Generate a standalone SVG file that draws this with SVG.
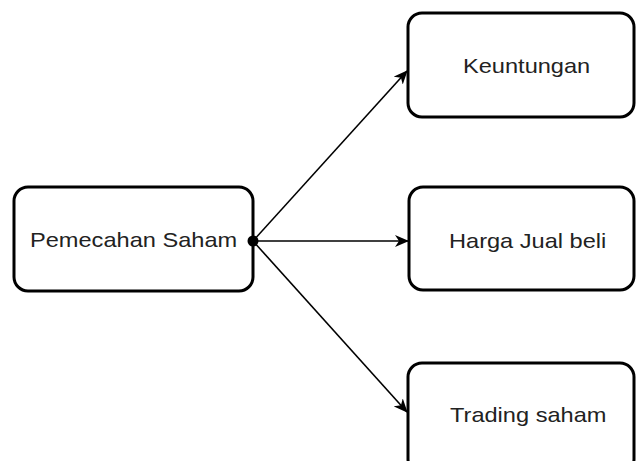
<svg xmlns="http://www.w3.org/2000/svg" width="636" height="461" viewBox="0 0 636 461">
<defs>
<style>
.box{fill:#fff;stroke:#000;stroke-width:3}
.lbl{font-family:"Liberation Sans",Arial,sans-serif;font-size:20px;fill:#222}
.edge{stroke:#000;stroke-width:1.6;fill:none}
</style>
<marker id="arr" markerWidth="14" markerHeight="12" refX="13" refY="6" orient="auto" markerUnits="userSpaceOnUse" viewBox="0 0 14 12">
<path d="M0,0 L14,6 L0,12 L4,6 Z" fill="#000"/>
</marker>
</defs>
<rect width="636" height="461" fill="#fff"/>
<g id="n1">
<rect class="box" x="14" y="187" width="239" height="104" rx="14"/>
<text class="lbl" transform="translate(30,247) scale(1.18,1)" x="0" y="0">Pemecahan Saham</text>
</g>
<g id="n2">
<rect class="box" x="408" y="13" width="226" height="104" rx="14"/>
<text class="lbl" transform="translate(463,73) scale(1.18,1)" x="0" y="0">Keuntungan</text>
</g>
<g id="n3">
<rect class="box" x="409" y="187" width="225" height="103" rx="14"/>
<text class="lbl" transform="translate(449,248) scale(1.18,1)" x="0" y="0">Harga Jual beli</text>
</g>
<g id="n4">
<rect class="box" x="408" y="363" width="226" height="110" rx="14"/>
<text class="lbl" transform="translate(450,422) scale(1.18,1)" x="0" y="0">Trading saham</text>
</g>
<g id="edges">
<line class="edge" x1="253" y1="241" x2="407" y2="71" marker-end="url(#arr)"/>
<line class="edge" x1="253" y1="241" x2="408" y2="241" marker-end="url(#arr)"/>
<line class="edge" x1="253" y1="241" x2="407" y2="412" marker-end="url(#arr)"/>
<circle cx="253" cy="241" r="5.5" fill="#000"/>
</g>
</svg>
